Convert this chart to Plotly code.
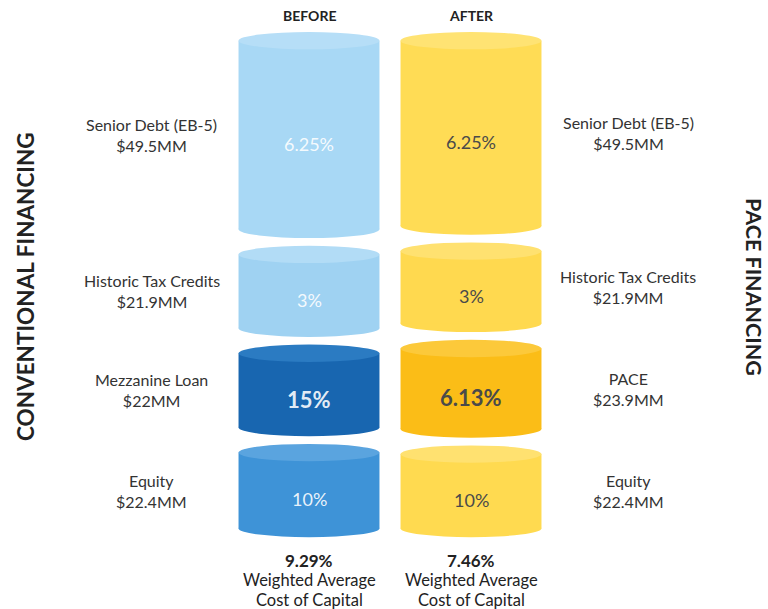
import plotly.graph_objects as go

# ---------------- data ----------------
columns = ["BEFORE", "AFTER"]
side_titles = ["CONVENTIONAL FINANCING", "PACE FINANCING"]

before_labels = ["Senior Debt (EB-5)", "Historic Tax Credits", "Mezzanine Loan", "Equity"]
before_amounts = [49.5, 21.9, 22.0, 22.4]
before_amount_text = ["$49.5MM", "$21.9MM", "$22MM", "$22.4MM"]
before_rates = ["6.25%", "3%", "15%", "10%"]

after_labels = ["Senior Debt (EB-5)", "Historic Tax Credits", "PACE", "Equity"]
after_amounts = [49.5, 21.9, 23.9, 22.4]
after_amount_text = ["$49.5MM", "$21.9MM", "$23.9MM", "$22.4MM"]
after_rates = ["6.25%", "3%", "6.13%", "10%"]

wacc = ["9.29%", "7.46%"]
wacc_caption = ["Weighted Average", "Cost of Capital"]
highlight = [2, 2]  # index of the changed tranche

# ---------------- styles ----------------
before_body = ["#a8d8f5", "#9fd2f2", "#1866b0", "#3e93d7"]
before_top = ["#b6def7", "#b2dcf6", "#2b7bc2", "#5aa4df"]
after_body = ["#ffdc55", "#ffd94f", "#fbbd17", "#ffda50"]
after_top = ["#ffe373", "#ffe170", "#fcc93a", "#ffe170"]
before_txt = "rgba(255,255,255,0.9)"
after_txt = "#4a4a4a"

FONT = "Lato, 'Open Sans', sans-serif"
W, H = 768, 609
col_w = 0.87     # cylinder width (x units)
gap = 1.6        # gap between tranches (share units)
ry = 1.8         # ellipse half height (share units)
label_off = 0.97


def py(px):
    return 1 - px / H


def pxx(px):
    return px / W


fig = go.Figure()
shapes = []
annotations = []

stacks = [
    (before_labels, before_amounts, before_amount_text, before_rates, before_body, before_top, before_txt),
    (after_labels, after_amounts, after_amount_text, after_rates, after_body, after_top, after_txt),
]

for ci, (labels, amounts, amt_txt, rates, body, topc, tcol) in enumerate(stacks):
    total = sum(amounts)
    shares = [a / total * 100 for a in amounts]
    top = 0.0
    side = -1 if ci == 0 else 1
    for i, s in enumerate(shares):
        bottom = top + s
        fig.add_trace(go.Bar(
            x=[ci], y=[s - 2 * ry], base=[top + ry], width=col_w,
            marker=dict(color=body[i], line=dict(width=0)),
            hoverinfo="skip", showlegend=False))
        shapes.append(dict(type="circle", xref="x", yref="y",
                           x0=ci - col_w / 2, x1=ci + col_w / 2,
                           y0=bottom - 2 * ry, y1=bottom,
                           fillcolor=body[i], line=dict(width=0), layer="below"))
        shapes.append(dict(type="circle", xref="x", yref="y",
                           x0=ci - col_w / 2, x1=ci + col_w / 2,
                           y0=top, y1=top + 2 * ry,
                           fillcolor=topc[i], line=dict(width=0), layer="above"))
        mid = (top + bottom) / 2
        bold = i == highlight[ci]
        rtxt = f"<b>{rates[i]}</b>" if bold else rates[i]
        annotations.append(dict(x=ci, y=mid + ry, xref="x", yref="y", text=rtxt,
                                showarrow=False, xanchor="center", yanchor="middle",
                                font=dict(family=FONT, size=22 if bold else 18, color=tcol)))
        annotations.append(dict(x=ci + side * label_off, y=mid, xref="x", yref="y",
                                text=f"{labels[i]}<br>{amt_txt[i]}", showarrow=False,
                                xanchor="center", yanchor="middle",
                                font=dict(family=FONT, size=16, color="#333333")))
        top = bottom + gap
    annotations.append(dict(x=ci, y=py(16), xref="x", yref="paper", yanchor="middle",
                            xanchor="center",
                            text=f"<b>{columns[ci]}</b>", showarrow=False,
                            font=dict(family=FONT, size=14, color="#222222")))
    annotations.append(dict(x=ci, y=py(560), xref="x", yref="paper", yanchor="middle",
                            xanchor="center", text=f"<b>{wacc[ci]}</b>", showarrow=False,
                            font=dict(family=FONT, size=17, color="#222222")))
    for li, line in enumerate(wacc_caption):
        annotations.append(dict(x=ci, y=py(580 + 20 * li), xref="x", yref="paper",
                                yanchor="middle", xanchor="center", text=line,
                                showarrow=False,
                                font=dict(family=FONT, size=16.5, color="#222222")))

annotations.append(dict(x=pxx(25), y=py(287), xref="paper", yref="paper",
                        xanchor="center", yanchor="middle",
                        text=f"<b>{side_titles[0]}</b>", textangle=-90, showarrow=False,
                        font=dict(family=FONT, size=22.5, color="#222222")))
annotations.append(dict(x=pxx(754), y=py(287), xref="paper", yref="paper",
                        xanchor="center", yanchor="middle",
                        text=f"<b>{side_titles[1]}</b>", textangle=90, showarrow=False,
                        font=dict(family=FONT, size=21.5, color="#222222")))

# axis mapping: column 0 centre at 309px, column 1 at 471px; share 0 at 32px, 4.82 px/unit
px_per_x = 162.0
x0_px = 309.0
px_per_y = 4.82
y0_px = 32.0
fig.update_layout(
    width=W, height=H,
    margin=dict(l=0, r=0, t=0, b=0),
    paper_bgcolor="white", plot_bgcolor="white",
    barmode="overlay",
    xaxis=dict(range=[-x0_px / px_per_x, (W - x0_px) / px_per_x], visible=False, fixedrange=True),
    yaxis=dict(range=[(H - y0_px) / px_per_y, -y0_px / px_per_y], visible=False, fixedrange=True),
    shapes=shapes,
    annotations=annotations,
    showlegend=False,
)

fig.write_html("out.html",
               config={"displayModeBar": False},
               post_script="document.body.style.margin='0';document.body.style.overflow='hidden';")
